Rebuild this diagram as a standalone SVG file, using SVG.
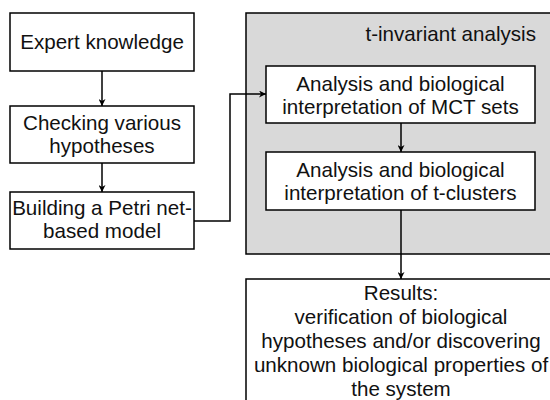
<svg xmlns="http://www.w3.org/2000/svg" width="550" height="400" viewBox="0 0 550 400">
<defs>
<marker id="ah" viewBox="0 0 10 10" refX="10" refY="5" markerWidth="7" markerHeight="7" markerUnits="userSpaceOnUse" orient="auto">
<path d="M0,0 L10,5 L0,10 L3,5 Z" fill="#000"/>
</marker>
<style>
.box{fill:#fff;stroke:#000;stroke-width:1.5}
.grp{fill:#d9d9d9;stroke:#000;stroke-width:1.5}
text{font-family:"Liberation Sans",Arial,sans-serif;font-size:20.6px;fill:#111;text-anchor:middle}
.conn path{fill:none;stroke:#000;stroke-width:1.5;marker-end:url(#ah)}
</style>
</defs>
<rect width="550" height="400" fill="#fff"/>
<g id="tinv">
<rect class="grp" x="246" y="13" width="312" height="241"/>
<text x="536" y="41" style="text-anchor:end">t-invariant analysis</text>
</g>
<g id="expert">
<rect class="box" x="10" y="13" width="184" height="58"/>
<text x="102" y="49">Expert knowledge</text>
</g>
<g id="checking">
<rect class="box" x="10" y="106" width="184" height="57"/>
<text x="102" y="130">Checking various</text>
<text x="102" y="153">hypotheses</text>
</g>
<g id="building">
<rect class="box" x="10" y="192" width="184" height="57"/>
<text x="102" y="215">Building a Petri net-</text>
<text x="102" y="238">based model</text>
</g>
<g id="mct">
<rect class="box" x="266" y="66" width="269" height="57"/>
<text x="400.5" y="91">Analysis and biological</text>
<text x="400.5" y="114">interpretation of MCT sets</text>
</g>
<g id="clusters">
<rect class="box" x="266" y="152" width="269" height="58"/>
<text x="400.5" y="177">Analysis and biological</text>
<text x="400.5" y="200">interpretation of t-clusters</text>
</g>
<g id="results">
<rect class="box" x="246" y="279" width="312" height="130"/>
<text x="401" y="300">Results:</text>
<text x="401" y="324">verification of biological</text>
<text x="401" y="348">hypotheses and/or discovering</text>
<text x="401" y="372">unknown biological properties of</text>
<text x="401" y="396">the system</text>
</g>
<g class="conn">
<path d="M102,71 V106"/>
<path d="M102,163 V192"/>
<path d="M194,221 H230 V94 H266"/>
<path d="M401,123 V152"/>
<path d="M401,210 V279"/>
</g>
</svg>
